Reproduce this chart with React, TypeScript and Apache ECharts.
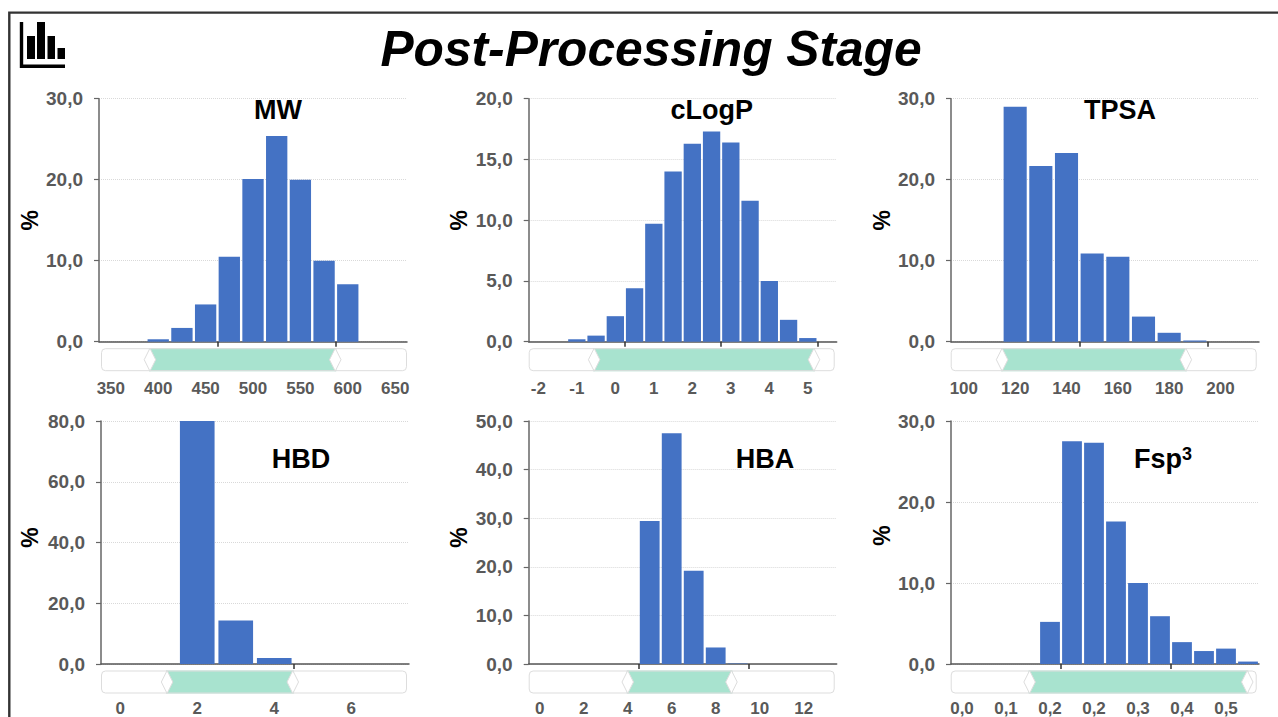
import React, { useEffect, useRef } from "react";
import * as echarts from "echarts";

const mainTitle = "Post-Processing Stage";
const percentLabel = "%";

const mwCategories = ["350","375","400","425","450","475","500","525","550","575","600","625","650"];
const mwValues = [0,0,0.3,1.7,4.6,10.5,20.1,25.4,20,10,7.1,0,0];
const clogpCategories = ["-2","-1.5","-1","-0.5","0","0.5","1","1.5","2","2.5","3","3.5","4","4.5","5","5.5"];
const clogpValues = [0,0,0.2,0.5,2.1,4.4,9.7,14,16.3,17.3,16.4,11.6,5,1.8,0.3,0];
const tpsaCategories = ["100","110","120","130","140","150","160","170","180","190","200","210"];
const tpsaValues = [0,0,29,21.7,23.3,10.9,10.5,3.1,1.1,0.15,0,0];
const hbdCategories = ["0","1","2","3","4","5","6","7"];
const hbdValues = [0,0,80,14.3,2,0,0,0];
const hbaCategories = ["0","1","2","3","4","5","6","7","8","9","10","11","12","13"];
const hbaValues = [0,0,0,0,0,29.4,47.5,19.2,3.4,0.1,0,0,0,0];
const fspCategories = ["0,0","0,0","0,1","0,1","0,2","0,2","0,2","0,3","0,3","0,3","0,4","0,4","0,5","0,5"];
const fspValues = [0,0,0,0,5.2,27.5,27.3,17.6,10,5.9,2.7,1.6,1.9,0.3];

const panelTitles = ["MW", "cLogP", "TPSA", "HBD", "HBA", "Fsp{sup|3}"];
const panelCategories = [mwCategories, clogpCategories, tpsaCategories, hbdCategories, hbaCategories, fspCategories];
const panelValues = [mwValues, clogpValues, tpsaValues, hbdValues, hbaValues, fspValues];
const yMax = [30, 20, 30, 80, 50, 30];
const yStep = [10, 5, 10, 20, 10, 10];
const sliderStart = [15.7, 21.1, 16.5, 21.3, 32.1, 25.5];
const sliderEnd = [77, 93.7, 77.3, 63.1, 66.7, 97.4];
const xTickPositions = [[5, 10], [5, 10, 15], [5, 10], [5], [5, 10], [5, 10]];

const gridLeft = [99, 528.7, 951, 101, 528.7, 951];
const gridTop = [98.7, 98.7, 98.7, 421, 421, 421];
const trackLeft = [100, 527.7, 949.7, 100, 527.7, 949.7];
const titleCenterX = [278, 711.7, 1120, 301, 765, 1163];
const titleCenterY = [109, 109, 109, 458, 458, 458];
const nameShift = [0, 0, 0, 10, 10, 14];
const nameGaps = [58, 58, 58, 60, 58, 58];
const xLabelMargin = [38, 38, 38, 35.5, 35.5, 35.5];

const GRID_W = 308;
const GRID_H = 243;
const TRACK_W = 305.5;

const FONT = "'Liberation Sans', Arial, sans-serif";

export default function App() {
  const ref = useRef<HTMLDivElement>(null);
  useEffect(() => {
    const chart = echarts.init(ref.current!, undefined, { renderer: "svg" });
    const idx = [0, 1, 2, 3, 4, 5];
    const option: any = {
      animation: false,
      backgroundColor: "#ffffff",
      title: [
        {
          text: mainTitle,
          left: 646,
          top: 19,
          textAlign: "center",
          textStyle: { fontFamily: FONT, fontSize: 49.7, fontWeight: "bold", fontStyle: "italic", color: "#000" },
        },
        ...idx.map((i) => ({
          text: panelTitles[i],
          left: titleCenterX[i] - 5,
          top: titleCenterY[i] - 18,
          textAlign: "center",
          textStyle: {
            fontFamily: FONT,
            fontSize: 27,
            fontWeight: "bold",
            color: "#000",
            rich: {
              sup: { fontFamily: FONT, fontSize: 18, fontWeight: "bold", color: "#000", verticalAlign: "top", padding: [0, 0, 10, 0] },
            },
          },
        })),
      ],
      grid: idx.map((i) => ({
        left: gridLeft[i],
        top: gridTop[i],
        width: GRID_W,
        height: GRID_H,
        containLabel: false,
        outerBoundsMode: "none",
      })),
      xAxis: [
        ...idx.map((i) => ({
          type: "category",
          gridIndex: i,
          position: "bottom",
          data: panelCategories[i],
          boundaryGap: true,
          axisLine: { show: true, onZero: false, lineStyle: { color: "#555", width: 1.5 } },
          axisTick: { show: false },
          axisLabel: {
            interval: 1,
            margin: xLabelMargin[i],
            fontFamily: FONT,
            fontSize: 17,
            fontWeight: "bold",
            color: "#595959",
          },
          splitLine: { show: false },
        })),
        ...idx.map((i) => ({
          type: "value",
          gridIndex: i,
          position: "top",
          min: 0,
          max: 100,
          show: false,
          splitLine: { show: false },
        })),
        ...idx.map((i) => ({
          type: "value",
          gridIndex: i,
          position: "bottom",
          min: 0,
          max: panelCategories[i].length,
          axisLine: { show: false, onZero: false },
          axisLabel: { show: false },
          axisTick: { show: true, length: 5, customValues: xTickPositions[i], lineStyle: { color: "#333", width: 1.5 } },
          splitLine: { show: false },
        })),
      ],
      yAxis: idx.map((i) => ({
        type: "value",
        gridIndex: i,
        min: 0,
        max: yMax[i],
        interval: yStep[i],
        name: percentLabel,
        nameLocation: "middle",
        nameGap: nameGaps[i],
        nameRotate: 90,
        nameTextStyle: { fontFamily: FONT, fontSize: 23, fontWeight: "bold", color: "#000", padding: [0, 0, 0, nameShift[i]] },
        axisLine: { show: true, lineStyle: { color: "#666", width: 1.5 } },
        axisTick: { show: true, length: 5, lineStyle: { color: "#666", width: 1.2 } },
        axisLabel: {
          margin: 16,
          fontFamily: FONT,
          fontSize: 19,
          fontWeight: "bold",
          color: "#595959",
          formatter: (v: number) => v.toFixed(1).replace(".", ","),
        },
        splitLine: { show: true, lineStyle: { color: "#d9d9d9", width: 1, type: "dotted" } },
      })),
      series: idx.map((i) => ({
        type: "bar",
        xAxisIndex: i,
        yAxisIndex: i,
        data: panelValues[i],
        barCategoryGap: "10%",
        itemStyle: { color: "#4472c4" },
        silent: true,
      })),
      dataZoom: idx.map((i) => ({
        type: "slider",
        xAxisIndex: 6 + i,
        filterMode: "none",
        start: sliderStart[i],
        end: sliderEnd[i],
        left: trackLeft[i],
        width: TRACK_W,
        top: gridTop[i] + GRID_H + 6.5,
        height: 23,
        showDetail: false,
        showDataShadow: false,
        brushSelect: false,
        moveHandleSize: 0,
        backgroundColor: "#ffffff",
        borderColor: "#dddddd",
        borderRadius: 4,
        fillerColor: "#a8e3cf",
        handleIcon: "path://M0,-12 L6,0 L0,12 L-6,0 Z",
        handleSize: "100%",
        handleStyle: { color: "#ffffff", borderColor: "#dddddd", borderWidth: 1 },
      })),
      graphic: [
        { type: "polyline", silent: true, shape: { points: [[9.3, 717], [9.3, 12.6], [1278, 12.6]] }, style: { fill: "none", stroke: "#333", lineWidth: 2.4 } },
        { type: "polyline", silent: true, shape: { points: [[21.5, 22], [21.5, 66.2], [65, 66.2]] }, style: { fill: "none", stroke: "#000", lineWidth: 3.4 } },
        { type: "rect", silent: true, shape: { x: 27, y: 36, width: 8, height: 23 }, style: { fill: "#000" } },
        { type: "rect", silent: true, shape: { x: 37, y: 22, width: 8, height: 37 }, style: { fill: "#000" } },
        { type: "rect", silent: true, shape: { x: 47.5, y: 36, width: 7.5, height: 23 }, style: { fill: "#000" } },
        { type: "rect", silent: true, shape: { x: 57.5, y: 48, width: 7.5, height: 11 }, style: { fill: "#000" } },
      ],
    };
    chart.setOption(option);
    return () => chart.dispose();
  }, []);
  return <div ref={ref} style={{ position: "absolute", left: 0, top: 0, width: 1278, height: 717 }} />;
}
